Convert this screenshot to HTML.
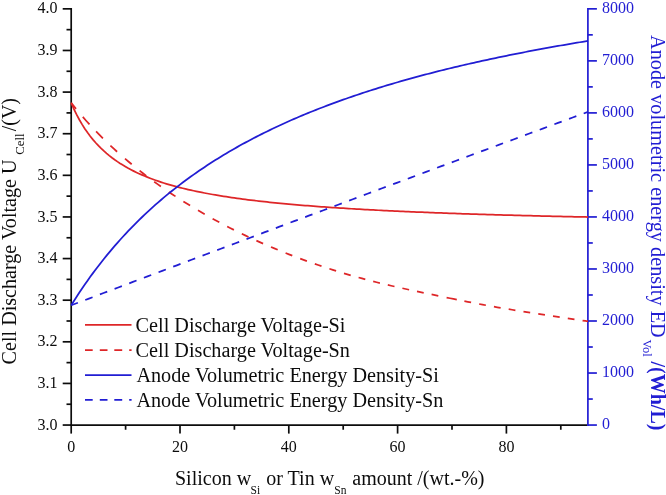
<!DOCTYPE html>
<html><head><meta charset="utf-8"><title>chart</title>
<style>html,body{margin:0;padding:0;background:#fff;}body{width:666px;height:495px;position:relative;overflow:hidden;font-family:"Liberation Serif",serif;}</style></head>
<body>
<svg width="666" height="495" viewBox="0 0 666 495" style="position:absolute;left:0;top:0;opacity:0.999;will-change:opacity">
<g stroke="#0c0c0c" stroke-width="1.7" fill="none">
<path d="M71.2 8.00 V425.90"/>
<path d="M70.35 425.05 H587.05"/>
<path d="M71.2 425.05 h-8.5"/>
<path d="M71.2 404.24 h-4.7"/>
<path d="M71.2 383.43 h-8.5"/>
<path d="M71.2 362.62 h-4.7"/>
<path d="M71.2 341.81 h-8.5"/>
<path d="M71.2 321.00 h-4.7"/>
<path d="M71.2 300.19 h-8.5"/>
<path d="M71.2 279.38 h-4.7"/>
<path d="M71.2 258.57 h-8.5"/>
<path d="M71.2 237.76 h-4.7"/>
<path d="M71.2 216.95 h-8.5"/>
<path d="M71.2 196.14 h-4.7"/>
<path d="M71.2 175.33 h-8.5"/>
<path d="M71.2 154.52 h-4.7"/>
<path d="M71.2 133.71 h-8.5"/>
<path d="M71.2 112.90 h-4.7"/>
<path d="M71.2 92.09 h-8.5"/>
<path d="M71.2 71.28 h-4.7"/>
<path d="M71.2 50.47 h-8.5"/>
<path d="M71.2 29.66 h-4.7"/>
<path d="M71.2 8.85 h-8.5"/>
<path d="M71.20 425.05 v8.55"/>
<path d="M125.60 425.05 v4.7"/>
<path d="M180.00 425.05 v8.55"/>
<path d="M234.40 425.05 v4.7"/>
<path d="M288.80 425.05 v8.55"/>
<path d="M343.20 425.05 v4.7"/>
<path d="M397.60 425.05 v8.55"/>
<path d="M452.00 425.05 v4.7"/>
<path d="M506.40 425.05 v8.55"/>
<path d="M560.80 425.05 v4.7"/>
</g>
<g stroke="#211dd3" stroke-width="1.7" fill="none">
<path d="M587.9 8.00 V425.90"/>
<path d="M587.9 425.05 h9.0"/>
<path d="M587.9 399.04 h4.9"/>
<path d="M587.9 373.03 h9.0"/>
<path d="M587.9 347.01 h4.9"/>
<path d="M587.9 321.00 h9.0"/>
<path d="M587.9 294.99 h4.9"/>
<path d="M587.9 268.98 h9.0"/>
<path d="M587.9 242.96 h4.9"/>
<path d="M587.9 216.95 h9.0"/>
<path d="M587.9 190.94 h4.9"/>
<path d="M587.9 164.93 h9.0"/>
<path d="M587.9 138.91 h4.9"/>
<path d="M587.9 112.90 h9.0"/>
<path d="M587.9 86.89 h4.9"/>
<path d="M587.9 60.88 h9.0"/>
<path d="M587.9 34.86 h4.9"/>
<path d="M587.9 8.85 h9.0"/>
</g>
<path d="M71.20 102.91 L73.92 109.07 L76.64 114.65 L79.36 119.73 L82.08 124.38 L84.80 128.65 L87.52 132.59 L90.24 136.22 L92.96 139.59 L95.68 142.73 L98.40 145.65 L101.12 148.38 L103.84 150.93 L106.56 153.33 L109.28 155.59 L112.00 157.71 L114.72 159.71 L117.44 161.61 L120.16 163.40 L122.88 165.10 L125.60 166.71 L128.32 168.25 L131.04 169.71 L133.76 171.10 L136.48 172.42 L139.20 173.69 L141.92 174.90 L144.64 176.06 L147.36 177.17 L150.08 178.23 L152.80 179.26 L155.52 180.24 L158.24 181.18 L160.96 182.09 L163.68 182.96 L166.40 183.80 L169.12 184.61 L171.84 185.39 L174.56 186.14 L177.28 186.87 L180.00 187.58 L182.72 188.26 L185.44 188.92 L188.16 189.55 L190.88 190.17 L193.60 190.77 L196.32 191.35 L199.04 191.91 L201.76 192.46 L204.48 192.99 L207.20 193.50 L209.92 194.00 L212.64 194.49 L215.36 194.96 L218.08 195.42 L220.80 195.87 L223.52 196.30 L226.24 196.73 L228.96 197.14 L231.68 197.54 L234.40 197.94 L237.12 198.32 L239.84 198.69 L242.56 199.06 L245.28 199.41 L248.00 199.76 L250.72 200.10 L253.44 200.43 L256.16 200.75 L258.88 201.07 L261.60 201.38 L264.32 201.68 L267.04 201.98 L269.76 202.26 L272.48 202.55 L275.20 202.82 L277.92 203.10 L280.64 203.36 L283.36 203.62 L286.08 203.88 L288.80 204.13 L291.52 204.37 L294.24 204.61 L296.96 204.85 L299.68 205.08 L302.40 205.30 L305.12 205.53 L307.84 205.74 L310.56 205.96 L313.28 206.17 L316.00 206.37 L318.72 206.58 L321.44 206.77 L324.16 206.97 L326.88 207.16 L329.60 207.35 L332.32 207.54 L335.04 207.72 L337.76 207.90 L340.48 208.07 L343.20 208.24 L345.92 208.41 L348.64 208.58 L351.36 208.75 L354.08 208.91 L356.80 209.07 L359.52 209.22 L362.24 209.38 L364.96 209.53 L367.68 209.68 L370.40 209.83 L373.12 209.97 L375.84 210.11 L378.56 210.25 L381.28 210.39 L384.00 210.53 L386.72 210.66 L389.44 210.80 L392.16 210.93 L394.88 211.05 L397.60 211.18 L400.32 211.31 L403.04 211.43 L405.76 211.55 L408.48 211.67 L411.20 211.79 L413.92 211.90 L416.64 212.02 L419.36 212.13 L422.08 212.24 L424.80 212.35 L427.52 212.46 L430.24 212.57 L432.96 212.68 L435.68 212.78 L438.40 212.88 L441.12 212.99 L443.84 213.09 L446.56 213.19 L449.28 213.28 L452.00 213.38 L454.72 213.48 L457.44 213.57 L460.16 213.66 L462.88 213.76 L465.60 213.85 L468.32 213.94 L471.04 214.03 L473.76 214.11 L476.48 214.20 L479.20 214.29 L481.92 214.37 L484.64 214.45 L487.36 214.54 L490.08 214.62 L492.80 214.70 L495.52 214.78 L498.24 214.86 L500.96 214.94 L503.68 215.01 L506.40 215.09 L509.12 215.17 L511.84 215.24 L514.56 215.31 L517.28 215.39 L520.00 215.46 L522.72 215.53 L525.44 215.60 L528.16 215.67 L530.88 215.74 L533.60 215.81 L536.32 215.88 L539.04 215.94 L541.76 216.01 L544.48 216.08 L547.20 216.14 L549.92 216.21 L552.64 216.27 L555.36 216.33 L558.08 216.40 L560.80 216.46 L563.52 216.52 L566.24 216.58 L568.96 216.64 L571.68 216.70 L574.40 216.76 L577.12 216.81 L579.84 216.87 L582.56 216.93 L585.28 216.99 L588.00 217.04" fill="none" stroke="#de2628" stroke-width="1.75"/>
<path d="M71.20 102.91 L76.00 108.89 M82.80 116.94 L86.15 120.75 L89.50 124.45 M96.10 131.47 L99.50 134.96 L102.90 138.36 M110.40 145.58 L113.75 148.69 L117.10 151.73 M125.00 158.66 L128.35 161.50 L131.70 164.29 M139.60 170.64 L142.95 173.25 L146.30 175.82 M154.20 181.68 L157.55 184.10 L160.90 186.47 M168.80 191.92 L172.15 194.17 L175.50 196.38 M183.40 201.45 L186.75 203.54 L190.10 205.61 M198.00 210.34 L201.35 212.30 L204.70 214.23 M212.60 218.66 L215.95 220.50 L219.30 222.30 M227.20 226.45 L230.55 228.17 L233.90 229.86 M241.80 233.75 L245.15 235.36 L248.50 236.94 M256.40 240.59 L259.75 242.10 L263.10 243.58 M271.00 247.00 L274.35 248.41 L277.70 249.80 M285.60 253.00 L288.95 254.32 L292.30 255.62 M300.20 258.61 L303.55 259.85 L306.90 261.07 M314.80 263.87 L318.15 265.02 L321.50 266.16 M329.40 268.77 L332.75 269.84 L336.10 270.90 M344.00 273.32 L347.35 274.32 L350.70 275.29 M358.60 277.53 L361.95 278.45 L365.30 279.35 M373.20 281.40 L376.55 282.25 L379.90 283.07 M387.80 284.96 L391.15 285.74 L394.50 286.51 M402.40 288.27 L405.75 289.00 L409.10 289.73 M417.00 291.41 L420.35 292.12 L423.70 292.82 M431.60 294.47 L434.95 295.16 L438.30 295.86 M446.60 297.56 L450.00 298.26 L453.40 298.95 L456.80 299.64 M464.39 301.15 L467.74 301.81 L471.09 302.46 M479.16 304.00 L482.51 304.62 L485.86 305.24 M493.93 306.69 L497.28 307.27 L500.63 307.85 M508.70 309.21 L512.05 309.76 L515.40 310.30 M523.47 311.59 L526.82 312.11 L530.17 312.63 M538.24 313.87 L541.59 314.38 L544.94 314.88 M553.01 316.09 L556.36 316.59 L559.71 317.10 M567.78 318.30 L571.13 318.81 L574.48 319.31 M582.55 320.54 L585.27 320.96 L588.00 321.38" fill="none" stroke="#de2628" stroke-width="1.75"/>
<path d="M71.20 305.30 L73.92 300.96 L76.64 296.73 L79.36 292.58 L82.08 288.52 L84.80 284.55 L87.52 280.67 L90.24 276.86 L92.96 273.14 L95.68 269.49 L98.40 265.92 L101.12 262.42 L103.84 258.99 L106.56 255.62 L109.28 252.32 L112.00 249.09 L114.72 245.92 L117.44 242.81 L120.16 239.75 L122.88 236.76 L125.60 233.82 L128.32 230.93 L131.04 228.09 L133.76 225.31 L136.48 222.57 L139.20 219.89 L141.92 217.25 L144.64 214.65 L147.36 212.11 L150.08 209.60 L152.80 207.14 L155.52 204.71 L158.24 202.33 L160.96 199.99 L163.68 197.69 L166.40 195.42 L169.12 193.19 L171.84 190.99 L174.56 188.83 L177.28 186.71 L180.00 184.61 L182.72 182.55 L185.44 180.52 L188.16 178.53 L190.88 176.56 L193.60 174.62 L196.32 172.71 L199.04 170.83 L201.76 168.97 L204.48 167.15 L207.20 165.35 L209.92 163.57 L212.64 161.82 L215.36 160.10 L218.08 158.40 L220.80 156.72 L223.52 155.07 L226.24 153.44 L228.96 151.83 L231.68 150.24 L234.40 148.68 L237.12 147.13 L239.84 145.61 L242.56 144.10 L245.28 142.62 L248.00 141.15 L250.72 139.71 L253.44 138.28 L256.16 136.87 L258.88 135.48 L261.60 134.11 L264.32 132.75 L267.04 131.41 L269.76 130.09 L272.48 128.78 L275.20 127.49 L277.92 126.22 L280.64 124.96 L283.36 123.72 L286.08 122.49 L288.80 121.27 L291.52 120.07 L294.24 118.88 L296.96 117.71 L299.68 116.55 L302.40 115.41 L305.12 114.28 L307.84 113.16 L310.56 112.05 L313.28 110.95 L316.00 109.87 L318.72 108.80 L321.44 107.74 L324.16 106.70 L326.88 105.66 L329.60 104.64 L332.32 103.63 L335.04 102.63 L337.76 101.63 L340.48 100.65 L343.20 99.68 L345.92 98.72 L348.64 97.77 L351.36 96.84 L354.08 95.91 L356.80 94.98 L359.52 94.07 L362.24 93.17 L364.96 92.28 L367.68 91.40 L370.40 90.52 L373.12 89.66 L375.84 88.80 L378.56 87.95 L381.28 87.11 L384.00 86.28 L386.72 85.46 L389.44 84.64 L392.16 83.83 L394.88 83.03 L397.60 82.24 L400.32 81.45 L403.04 80.68 L405.76 79.91 L408.48 79.14 L411.20 78.39 L413.92 77.64 L416.64 76.90 L419.36 76.16 L422.08 75.44 L424.80 74.72 L427.52 74.00 L430.24 73.29 L432.96 72.59 L435.68 71.90 L438.40 71.21 L441.12 70.52 L443.84 69.85 L446.56 69.17 L449.28 68.51 L452.00 67.85 L454.72 67.20 L457.44 66.55 L460.16 65.91 L462.88 65.27 L465.60 64.64 L468.32 64.01 L471.04 63.39 L473.76 62.78 L476.48 62.17 L479.20 61.56 L481.92 60.96 L484.64 60.36 L487.36 59.77 L490.08 59.19 L492.80 58.61 L495.52 58.03 L498.24 57.46 L500.96 56.90 L503.68 56.33 L506.40 55.78 L509.12 55.22 L511.84 54.68 L514.56 54.13 L517.28 53.59 L520.00 53.06 L522.72 52.52 L525.44 52.00 L528.16 51.47 L530.88 50.96 L533.60 50.44 L536.32 49.93 L539.04 49.42 L541.76 48.92 L544.48 48.42 L547.20 47.92 L549.92 47.43 L552.64 46.94 L555.36 46.46 L558.08 45.98 L560.80 45.50 L563.52 45.03 L566.24 44.56 L568.96 44.09 L571.68 43.63 L574.40 43.17 L577.12 42.71 L579.84 42.26 L582.56 41.81 L585.28 41.36 L588.00 40.92" fill="none" stroke="#211dd3" stroke-width="1.75"/>
<path d="M71.20 305.30 L74.55 304.03 L77.90 302.76 M85.26 299.97 L88.91 298.58 L92.56 297.20 M99.92 294.41 L103.57 293.03 L107.22 291.64 M114.58 288.86 L118.23 287.47 L121.88 286.09 M129.24 283.31 L132.89 281.93 L136.54 280.54 M143.90 277.76 L147.55 276.38 L151.20 275.00 M158.56 272.22 L162.21 270.84 L165.86 269.46 M173.22 266.69 L176.87 265.31 L180.52 263.93 M187.88 261.15 L191.53 259.78 L195.18 258.40 M202.54 255.63 L206.19 254.25 L209.84 252.88 M217.20 250.10 L220.85 248.73 L224.50 247.36 M231.86 244.59 L235.51 243.21 L239.16 241.84 M246.52 239.07 L250.17 237.70 L253.82 236.33 M261.18 233.56 L264.83 232.19 L268.48 230.82 M275.84 228.06 L279.49 226.69 L283.14 225.32 M290.50 222.55 L294.15 221.19 L297.80 219.82 M305.16 217.06 L308.81 215.69 L312.46 214.32 M319.82 211.57 L323.47 210.20 L327.12 208.83 M334.48 206.08 L338.13 204.71 L341.78 203.35 M349.14 200.59 L352.79 199.23 L356.44 197.86 M363.80 195.11 L367.45 193.75 L371.10 192.39 M378.46 189.64 L382.11 188.28 L385.76 186.91 M393.12 184.17 L396.77 182.81 L400.42 181.45 M407.78 178.70 L411.43 177.34 L415.08 175.98 M422.44 173.24 L426.09 171.88 L429.74 170.52 M437.10 167.78 L440.75 166.42 L444.40 165.07 M451.76 162.33 L455.41 160.97 L459.06 159.62 M466.42 156.88 L470.07 155.52 L473.72 154.17 M481.08 151.44 L484.73 150.08 L488.38 148.73 M495.74 146.00 L499.39 144.64 L503.04 143.29 M510.40 140.56 L514.05 139.21 L517.70 137.86 M525.06 135.13 L528.71 133.78 L532.36 132.43 M539.72 129.70 L543.37 128.35 L547.02 127.00 M554.38 124.28 L558.03 122.93 L561.68 121.58 M569.04 118.86 L572.69 117.51 L576.34 116.16 M583.70 113.45 L588.00 111.86" fill="none" stroke="#211dd3" stroke-width="1.75"/>
<path d="M85.0 324.9 H131.5" stroke="#de2628" stroke-width="1.75" fill="none"/>
<path d="M85.0 350.1 H92.7 M99.8 350.1 H107.5 M114.3 350.1 H122.2 M129.2 350.1 H131.6" stroke="#de2628" stroke-width="1.75" fill="none"/>
<path d="M85.0 375.2 H131.5" stroke="#211dd3" stroke-width="1.75" fill="none"/>
<path d="M85.0 399.9 H92.7 M99.8 399.9 H107.5 M114.3 399.9 H122.2 M129.2 399.9 H131.6" stroke="#211dd3" stroke-width="1.75" fill="none"/>
<g font-family="Liberation Serif, serif" font-size="16" fill="#0c0c0c">
<text x="57.5" y="429.65" text-anchor="end">3.0</text>
<text x="57.5" y="388.03" text-anchor="end">3.1</text>
<text x="57.5" y="346.41" text-anchor="end">3.2</text>
<text x="57.5" y="304.79" text-anchor="end">3.3</text>
<text x="57.5" y="263.17" text-anchor="end">3.4</text>
<text x="57.5" y="221.55" text-anchor="end">3.5</text>
<text x="57.5" y="179.93" text-anchor="end">3.6</text>
<text x="57.5" y="138.31" text-anchor="end">3.7</text>
<text x="57.5" y="96.69" text-anchor="end">3.8</text>
<text x="57.5" y="55.07" text-anchor="end">3.9</text>
<text x="57.5" y="13.45" text-anchor="end">4.0</text>
<text x="71.20" y="452.1" text-anchor="middle">0</text>
<text x="180.00" y="452.1" text-anchor="middle">20</text>
<text x="288.80" y="452.1" text-anchor="middle">40</text>
<text x="397.60" y="452.1" text-anchor="middle">60</text>
<text x="506.40" y="452.1" text-anchor="middle">80</text>
</g>
<g font-family="Liberation Serif, serif" font-size="16" fill="#211dd3">
<text x="602" y="429.25">0</text>
<text x="602" y="377.23">1000</text>
<text x="602" y="325.20">2000</text>
<text x="602" y="273.18">3000</text>
<text x="602" y="221.15">4000</text>
<text x="602" y="169.12">5000</text>
<text x="602" y="117.10">6000</text>
<text x="602" y="65.08">7000</text>
<text x="602" y="13.05">8000</text>
</g>
<g font-family="Liberation Serif, serif" font-size="20.22" fill="#0c0c0c">
<text x="135.6" y="332.2">Cell Discharge Voltage-Si</text>
<text x="135.6" y="357.4">Cell Discharge Voltage-Sn</text>
<text x="136.4" y="381.9">Anode Volumetric Energy Density-Si</text>
<text x="136.4" y="406.9">Anode Volumetric Energy Density-Sn</text>
<text font-size="20" y="485.3"><tspan x="175.0">Silicon w</tspan><tspan font-size="11.5" x="250.5" dy="8.7">Si</tspan><tspan x="266.3" dy="-8.7">or Tin w</tspan><tspan font-size="11.5" x="334.3" dy="8.7">Sn</tspan><tspan x="352.3" dy="-8.7">amount /(wt.-%)</tspan></text>
<text transform="translate(16.2 364.4) rotate(-90) scale(1.006 1)" font-size="20">Cell Discharge Voltage U</text>
<text transform="translate(24.0 154.8) rotate(-90)" font-size="12.8">Cell</text>
<text transform="translate(16.2 131.3) rotate(-90)" font-size="20">/(V)</text>
</g>
<g font-family="Liberation Serif, serif" font-size="20" fill="#211dd3">
<text transform="translate(650.8 35.0) rotate(90) scale(1.015 1)">Anode volumetric energy density ED</text>
<text transform="translate(642.6 339.6) rotate(90)" font-size="12.5">Vol</text>
<text transform="translate(650.8 361.5) rotate(90)" font-weight="bold">/(Wh/L)</text>
</g>
</svg>
</body></html>
